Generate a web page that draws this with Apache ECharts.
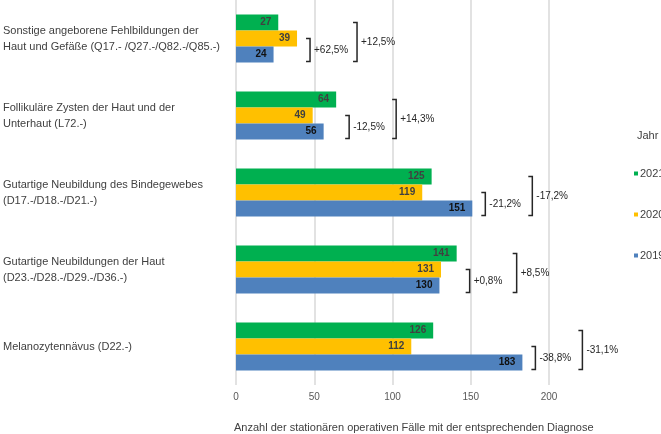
<!DOCTYPE html>
<html><head><meta charset="utf-8">
<script src="https://cdn.jsdelivr.net/npm/echarts@6/dist/echarts.min.js"></script>
<style>html,body{margin:0;padding:0;background:#fff}#c{width:661px;height:434px}</style>
</head><body><div id="c"></div>
<script>
const categories = [
  'Sonstige angeborene Fehlbildungen der\nHaut und Gefäße (Q17.- /Q27.-/Q82.-/Q85.-)',
  'Follikuläre Zysten der Haut und der\nUnterhaut (L72.-)',
  'Gutartige Neubildung des Bindegewebes\n(D17.-/D18.-/D21.-)',
  'Gutartige Neubildungen der Haut\n(D23.-/D28.-/D29.-/D36.-)',
  'Melanozytennävus (D22.-)'
];
const values2021 = [27, 64, 125, 141, 126];
const values2020 = [39, 49, 119, 131, 112];
const values2019 = [24, 56, 151, 130, 183];
const change2020vs2019 = ['+62,5%', '-12,5%', '-21,2%', '+0,8%', '-38,8%'];
const change2021vs2019 = ['+12,5%', '+14,3%', '-17,2%', '+8,5%', '-31,1%'];
const xTicks = [0, 50, 100, 150, 200];

const FONT = 'Liberation Sans, Arial, sans-serif';
const BW = 16;
const maxVals = categories.map((c, i) => Math.max(values2021[i], values2020[i], values2019[i]));

const chart = echarts.init(document.getElementById('c'));
function barSeries(name, data, color, labelColor) {
  return {
    name, type: 'bar', data, barWidth: BW, barGap: '0%',
    itemStyle: { color },
    label: { show: true, position: 'insideRight', distance: 7, color: labelColor,
      fontWeight: 'bold', fontSize: 10, fontFamily: FONT },
    z: 2
  };
}
chart.setOption({
  animation: false,
  title: [
    { text: 'Jahr', left: 637, top: 130, padding: 0, textStyle: { fontSize: 11, fontWeight: 'normal', color: '#404040', fontFamily: FONT } },
    { text: 'Anzahl der stationären operativen Fälle mit der entsprechenden Diagnose', left: 234, top: 422,
      padding: 0, textStyle: { fontSize: 11, fontWeight: 'normal', color: '#404040', fontFamily: FONT } }
  ],
  legend: {
    orient: 'vertical', left: 634, top: 168, itemWidth: 4, itemHeight: 4, itemGap: 30,
    icon: 'rect', data: ['2021', '2020', '2019'],
    textStyle: { fontSize: 11, color: '#404040', fontFamily: FONT, padding: [0, 0, 0, -3] }, padding: 0
  },
  grid: { left: 235, top: 0, width: 314, height: 385, containLabel: false },
  xAxis: {
    type: 'value', min: xTicks[0], max: xTicks[xTicks.length - 1], interval: 50,
    axisLine: { show: false }, axisTick: { show: false },
    axisLabel: { color: '#595959', fontSize: 10, fontFamily: FONT, margin: 7 },
    splitLine: { lineStyle: { color: '#d9d9d9', width: 1.5 } }
  },
  yAxis: {
    type: 'category', data: categories, inverse: true,
    axisLine: { show: false }, axisTick: { show: false },
    axisLabel: { align: 'left', margin: 233, color: '#404040', fontSize: 11, lineHeight: 16, fontFamily: FONT }
  },
  series: [
    barSeries('2021', values2021, '#00B050', '#404040'),
    barSeries('2020', values2020, '#FFC000', '#404040'),
    barSeries('2019', values2019, '#4F81BD', '#111'),
    {
      type: 'custom', clip: false, z: 5, silent: true,
      data: maxVals.map((v, i) => [v, i]),
      encode: { x: 0, y: 1 },
      renderItem: function (params, api) {
        const p = api.coord([api.value(0), api.value(1)]);
        const c = p[1];
        const xi = p[0] + 13;
        const xo = xi + 47;
        const bottom = c + 1.5 * BW - 1;
        const innerTop = c;
        const outerTop = c - BW;
        const st = { stroke: '#262626', lineWidth: 1.5, fill: null };
        const i = params.dataIndex;
        return {
          type: 'group',
          children: [
            { type: 'polyline', shape: { points: [[xi - 4, innerTop], [xi, innerTop], [xi, bottom], [xi - 4, bottom]] }, style: st },
            { type: 'polyline', shape: { points: [[xo - 4, outerTop], [xo, outerTop], [xo, bottom], [xo - 4, bottom]] }, style: st },
            { type: 'text', style: { text: change2020vs2019[i], x: xi + 4, y: (innerTop + bottom) / 2, textVerticalAlign: 'middle', fill: '#262626', font: '10px ' + FONT } },
            { type: 'text', style: { text: change2021vs2019[i], x: xo + 4, y: (outerTop + bottom) / 2, textVerticalAlign: 'middle', fill: '#262626', font: '10px ' + FONT } }
          ]
        };
      }
    }
  ]
});
</script></body></html>
